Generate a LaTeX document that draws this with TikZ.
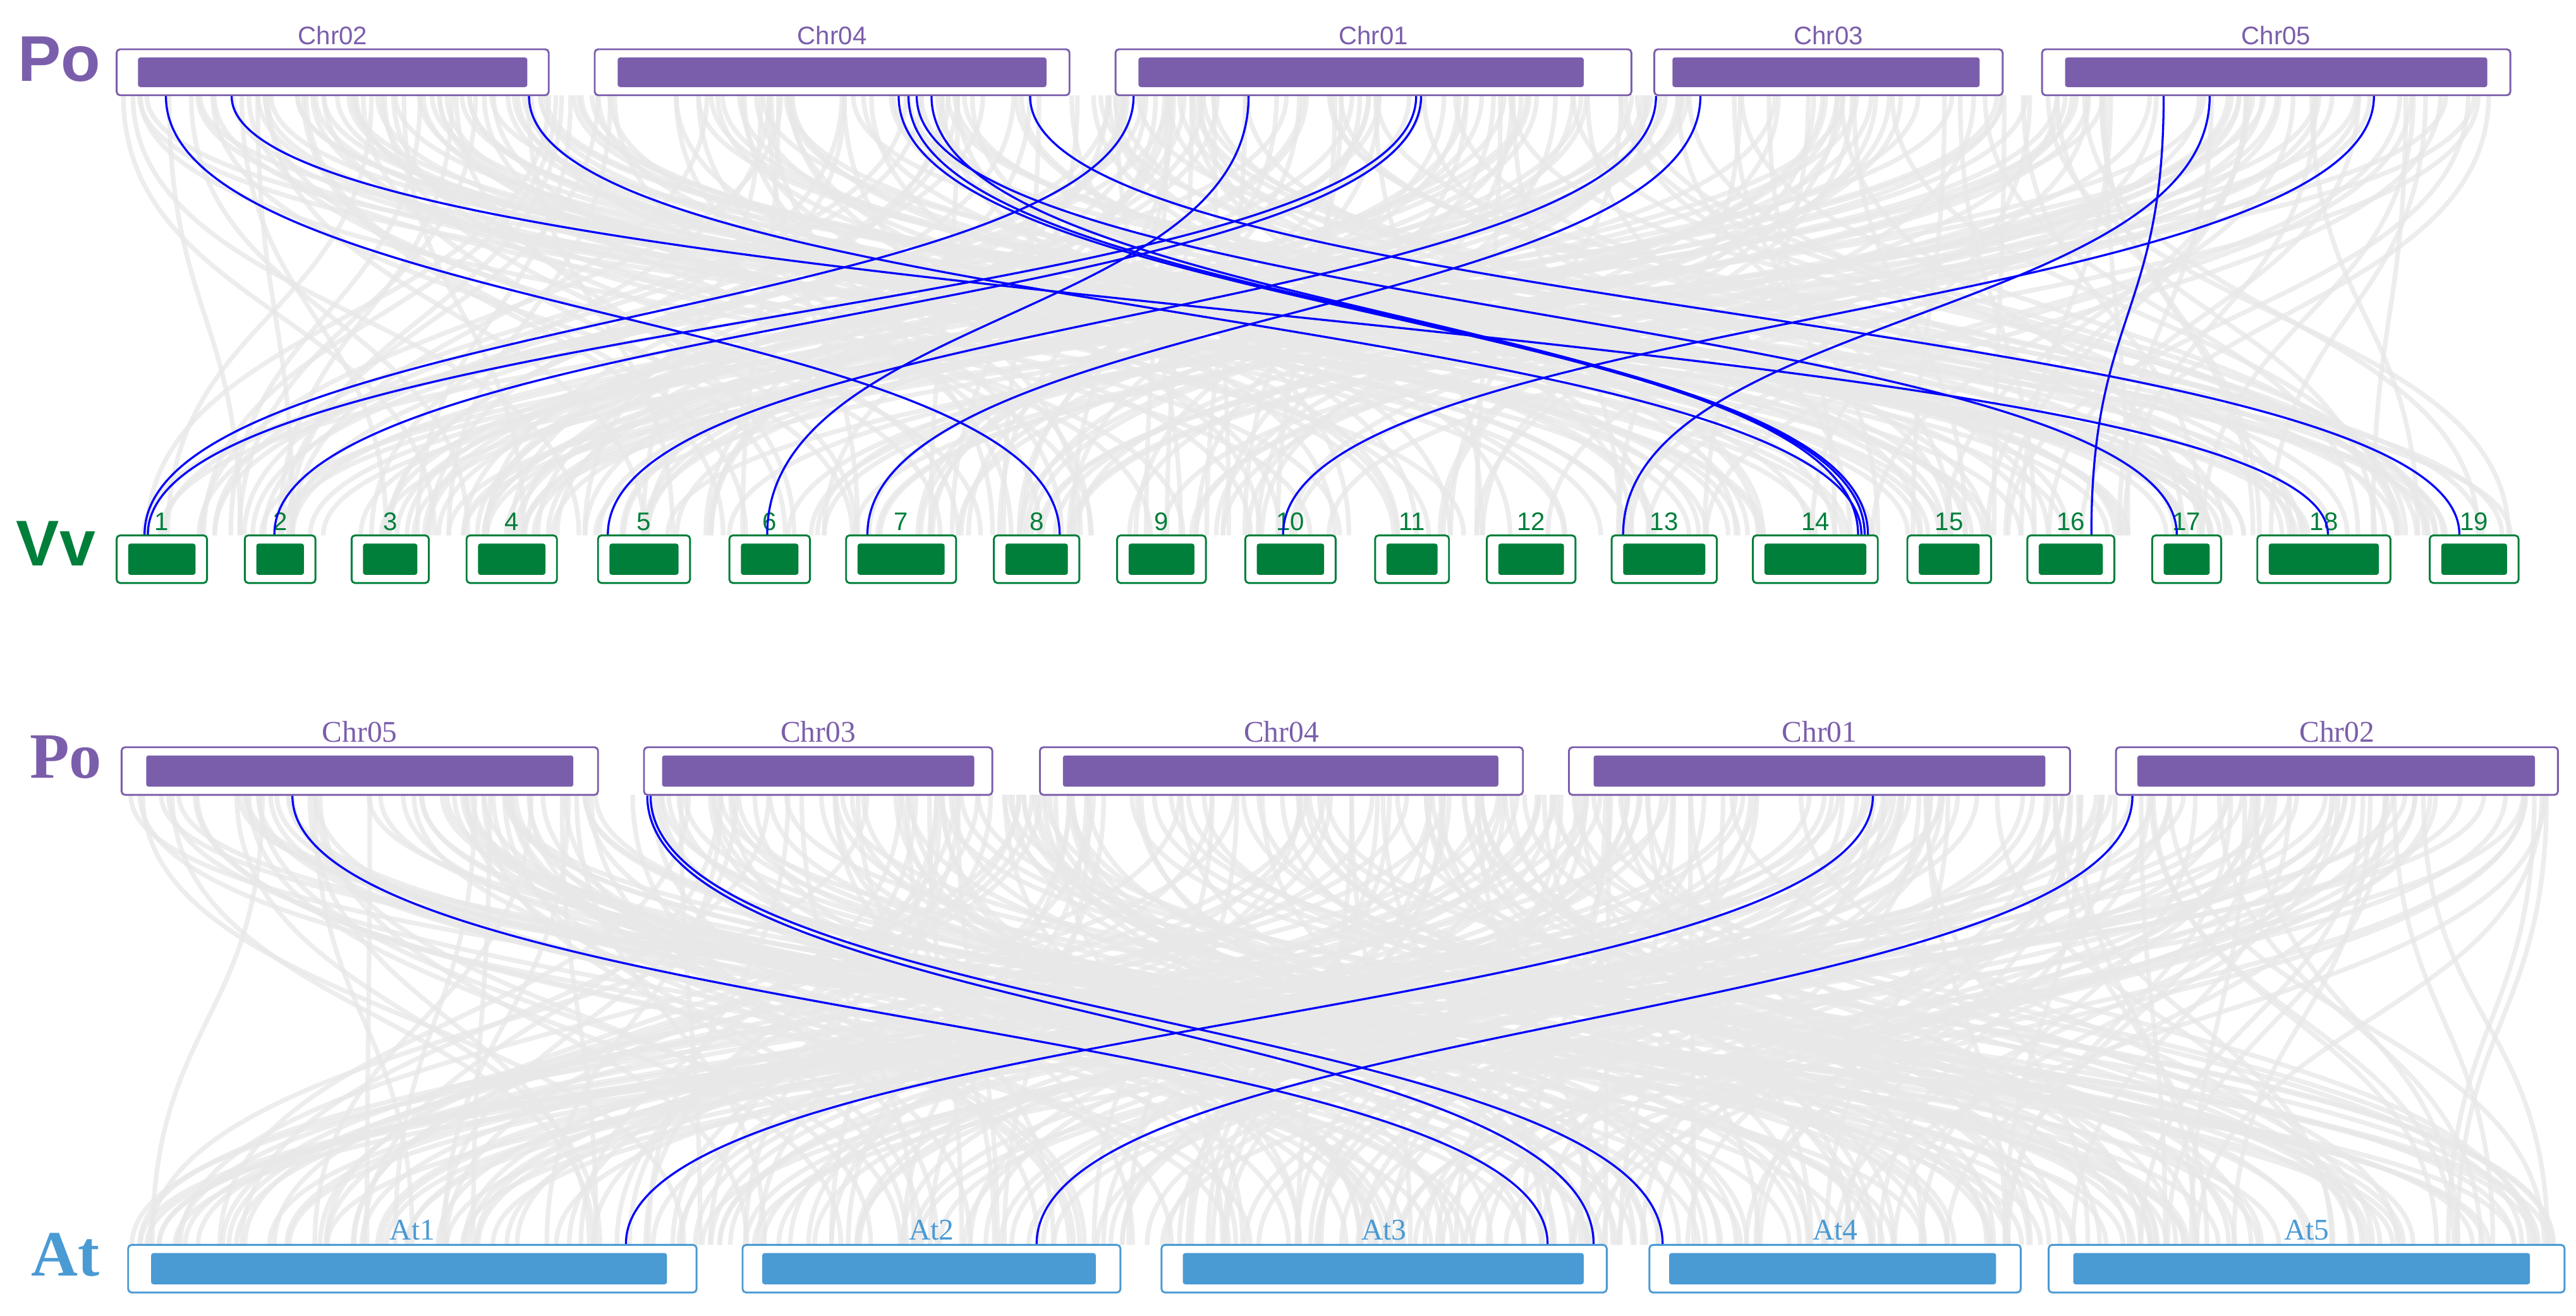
\documentclass[tikz,border=0pt]{standalone}
\usepackage{fontspec}
\setmainfont{Liberation Serif}
\newfontfamily\sansf{Liberation Sans}
\usetikzlibrary{calc}
\definecolor{pur}{HTML}{7B5EAB}
\definecolor{grn}{HTML}{007F3A}
\definecolor{lbl}{HTML}{4A9AD4}
\definecolor{gry}{HTML}{E8E8E8}
\tikzset{
 blu/.style={draw=blue,line width=0.9pt},
 gl/.style={draw=gry,line width=2pt,opacity=0.8},
 obox/.style={draw=#1,fill=white,rounded corners=1.5pt,line width=0.8pt,inner sep=0pt},
}
\newcommand\cbox[9]{% name, xo1, xo2, yo1, yo2, xi1, xi2, color, label
 \node[obox=#8,minimum width={(#3-#2)*0.025cm},minimum height={(#5-#4)*0.025cm}] (#1) at ({(#2+#3)/2},{(#4+#5)/2}) {};
 \fill[#8,rounded corners=1pt] (#6,#4+5) rectangle (#7,#5-5);
 \node[text=#8,anchor=base,inner sep=0pt] at ({(#2+#3)/2},#4-3) {#9};
}
\newcommand\lk[4]{%
 \draw[blu] let \p1=(#1.south),\p2=(#3.north) in
 ({#2*0.025cm},\y1) .. controls ({#2*0.025cm},{(\y1+\y2)/2}) and ({#4*0.025cm},{(\y1+\y2)/2}) .. ({#4*0.025cm},\y2);
}
\begin{document}
\begin{tikzpicture}[x=0.025cm,y=-0.025cm]
\useasboundingbox (0,0) rectangle (1568,801);
\pgfmathsetseed{7}
\foreach \i in {1,...,320}{
 \pgfmathsetmacro\a{75+1450*rnd}\pgfmathsetmacro\b{75+1455*rnd}
 \draw[gl] (\a,58) .. controls (\a,192) and (\b,192) .. (\b,326);
}
\foreach \i in {1,...,360}{
 \pgfmathsetmacro\a{78+1475*rnd}\pgfmathsetmacro\b{80+1475*rnd}
 \draw[gl] (\a,484) .. controls (\a,621) and (\b,621) .. (\b,758);
}
% top panel
\node[text=pur,font=\sansf\bfseries\fontsize{28}{28}\selectfont] at (36,36) {Po};
\node[text=grn,font=\sansf\bfseries\fontsize{28}{28}\selectfont] at (34,331) {Vv};
\begin{scope}[font=\sansf\fontsize{11}{11}\selectfont]
\cbox{pA2}{71}{334}{30}{58}{84}{321}{pur}{Chr02}
\cbox{pA4}{362}{651}{30}{58}{376}{637}{pur}{Chr04}
\cbox{pA1}{679}{993}{30}{58}{693}{964}{pur}{Chr01}
\cbox{pA3}{1007}{1219}{30}{58}{1018}{1205}{pur}{Chr03}
\cbox{pA5}{1243}{1528}{30}{58}{1257}{1514}{pur}{Chr05}
\foreach \n/\l/\r in {1/71/126,2/149/192,3/214/261,4/284/339,5/364/420,6/444/493,7/515/582,8/605/657,9/680/734,10/758/813,11/837/882,12/905/959,13/981/1045,14/1067/1143,15/1161/1212,16/1234/1287,17/1310/1352,18/1374/1455,19/1479/1533}{
 \pgfmathtruncatemacro\li{\l+7}\pgfmathtruncatemacro\ri{\r-7}
 \cbox{v\n}{\l}{\r}{326}{355}{\li}{\ri}{grn}{\n}
}
\end{scope}
\lk{pA2}{101}{v8}{645}
\lk{pA2}{141}{v18}{1417}
\lk{pA2}{322}{v14}{1133}
\lk{pA4}{547}{v14}{1135}
\lk{pA4}{553}{v14}{1137}
\lk{pA4}{567}{v14}{1131}
\lk{pA4}{558}{v17}{1325}
\lk{pA4}{627}{v19}{1497}
\lk{pA1}{690}{v1}{88}
\lk{pA1}{760}{v6}{467}
\lk{pA1}{862}{v1}{90}
\lk{pA1}{865}{v2}{167}
\lk{pA3}{1008}{v5}{370}
\lk{pA3}{1035}{v7}{528}
\lk{pA5}{1317}{v16}{1273}
\lk{pA5}{1345}{v13}{988}
\lk{pA5}{1445}{v10}{781}
% bottom panel
\node[text=pur,font=\bfseries\fontsize{28}{28}\selectfont] at (40,461) {Po};
\node[text=lbl,font=\bfseries\fontsize{28}{28}\selectfont] at (40,764) {At};
\begin{scope}[font=\fontsize{13}{13}\selectfont]
\cbox{pB5}{74}{364}{455}{484}{89}{349}{pur}{Chr05}
\cbox{pB3}{392}{604}{455}{484}{403}{593}{pur}{Chr03}
\cbox{pB4}{633}{927}{455}{484}{647}{912}{pur}{Chr04}
\cbox{pB1}{955}{1260}{455}{484}{970}{1245}{pur}{Chr01}
\cbox{pB2}{1288}{1557}{455}{484}{1301}{1543}{pur}{Chr02}
\cbox{at1}{78}{424}{758}{787}{92}{406}{lbl}{At1}
\cbox{at2}{452}{682}{758}{787}{464}{667}{lbl}{At2}
\cbox{at3}{707}{978}{758}{787}{720}{964}{lbl}{At3}
\cbox{at4}{1004}{1230}{758}{787}{1016}{1215}{lbl}{At4}
\cbox{at5}{1247}{1561}{758}{787}{1262}{1540}{lbl}{At5}
\end{scope}
\lk{pB5}{178}{at3}{942}
\lk{pB3}{394}{at3}{970}
\lk{pB3}{396}{at4}{1012}
\lk{pB1}{1140}{at1}{381}
\lk{pB2}{1298}{at2}{631}
\end{tikzpicture}
\end{document}
